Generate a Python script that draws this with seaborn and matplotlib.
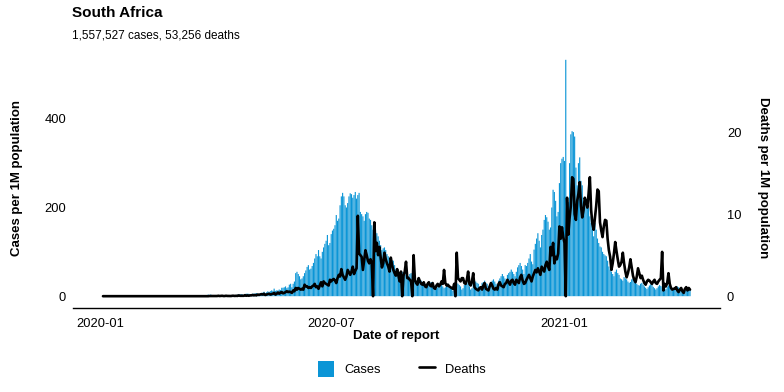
import numpy as np
import pandas as pd
import matplotlib
matplotlib.use("Agg")
import matplotlib.pyplot as plt
import matplotlib.dates as mdates
from matplotlib.patches import Patch
from matplotlib.lines import Line2D
import seaborn as sns

sns.set_style("white")
plt.rcParams['font.family'] = ['Liberation Sans', 'DejaVu Sans']
plt.rcParams['text.color'] = 'black'
plt.rcParams['axes.labelcolor'] = 'black'

# daily values from 2020-01-03, per 1M population
start_date = "2020-01-03"
country = "South Africa"
subtitle = "1,557,527 cases, 53,256 deaths"

cases_per_m = [0] * 62 + [
    # 2020-03-05 .. 03-31
    0.02, 0, 0, 0.02, 0.07, 0.1, 0.05, 0.05, 0.2, 0.15, 0.2, 0.2, 0.4, 0.6,
    0.5, 0.6, 0.9, 0.6, 1.2, 2.2, 2.2, 3.6, 2.6, 3.7, 1.5, 1.2, 1.3,
    # April
    1.0, 1.5, 2.3, 2.1, 1.3, 1.1, 0.9, 1.5, 1.6, 2.0, 1.6, 1.5, 2.0, 1.5,
    2.4, 1.3, 1.8, 3.4, 3.1, 4.2, 4.7, 3.9, 2.8, 2.6, 5.6, 5.6, 5.4, 4.0, 4.7, 5.4,
    # May
    6, 5.7, 7.1, 5.1, 5.7, 6.2, 7.4, 7.9, 10, 6.8, 8.8, 11, 9.2, 11.5,
    13, 12, 17, 12, 13, 13, 15, 14, 19, 19, 20, 22, 18, 20, 26, 28, 20,
    # June
    28, 33, 52, 55, 50, 45, 38, 40, 45, 52, 58, 66, 70, 60,
    62, 68, 75, 85, 95, 90, 104, 90, 85, 100, 110, 118, 125, 138, 115, 120,
    # July
    140, 148, 152, 160, 183, 170, 175, 205, 225, 233, 225, 205, 200, 210,
    225, 232, 230, 222, 228, 235, 220, 228, 233, 190, 185, 180, 170, 185, 190, 188, 175,
    # August
    172, 160, 150, 145, 150, 142, 135, 125, 115, 104, 108, 110, 104, 95,
    90, 85, 78, 81, 80, 70, 60, 55, 50, 45, 52, 55, 52, 50, 48, 52, 45,
    # September
    50, 52, 48, 42, 38, 35, 30, 28, 32, 35, 30, 29, 27, 22,
    25, 29, 30, 32, 28, 20, 18, 17, 20, 25, 30, 28, 22, 18, 20, 25,
    # October
    28, 25, 22, 18, 12, 15, 25, 30, 28, 25, 22, 15, 18, 25,
    30, 32, 28, 22, 15, 18, 28, 35, 33, 30, 28, 20, 22, 30, 32, 35, 30,
    # November
    28, 22, 25, 32, 35, 38, 33, 28, 25, 35, 40, 45, 50, 45,
    40, 35, 48, 52, 55, 60, 55, 50, 45, 55, 65, 70, 75, 68, 60, 50,
    # December
    70, 68, 75, 85, 95, 78, 72, 105, 118, 130, 142, 125, 110, 138,
    150, 172, 183, 178, 168, 150, 155, 200, 240, 235, 215, 180, 190, 255, 300, 310, 314,
    # January 2021
    305, 533, 220, 212, 300, 365, 372, 370, 360, 290, 250, 300, 313, 260,
    250, 210, 200, 205, 210, 200, 180, 165, 150, 135, 165, 150, 130, 120, 112, 110, 100,
    # February
    95, 92, 90, 80, 67, 60, 55, 50, 45, 55, 60, 52, 48, 40,
    38, 35, 43, 40, 38, 33, 30, 32, 38, 40, 35, 30, 28, 25,
    # March
    24, 28, 30, 26, 22, 19, 16, 20, 24, 27, 25, 21, 18, 15,
    18, 22, 25, 23, 20, 17, 14, 16, 21, 24, 22, 19, 16, 14, 17, 20, 22,
    # April 1-10
    20, 17, 14, 12, 11, 14, 18, 19, 17, 15,
]

deaths_per_m = [0] * 62 + [
    # 2020-03-05 .. 03-31
    0, 0, 0, 0, 0, 0, 0, 0, 0, 0, 0, 0, 0, 0,
    0, 0, 0, 0, 0, 0, 0, 0, 0.02, 0.02, 0.02, 0.03, 0.02,
    # April
    0.02, 0.02, 0.05, 0.02, 0.03, 0.05, 0.02, 0.02, 0.05, 0.03, 0.03, 0.02, 0.02, 0.05,
    0.05, 0.03, 0.05, 0.03, 0.1, 0.05, 0.05, 0.05, 0.05, 0.12, 0.05, 0.1, 0.05, 0.1, 0.1, 0.15,
    # May
    0.1, 0.15, 0.1, 0.2, 0.15, 0.2, 0.25, 0.2, 0.3, 0.15, 0.2, 0.25, 0.3, 0.2,
    0.25, 0.3, 0.4, 0.2, 0.3, 0.45, 0.3, 0.45, 0.5, 0.35, 0.4, 0.5, 0.6, 0.5, 0.55, 0.5, 0.4,
    # June
    0.7, 0.6, 1.0, 0.8, 1.0, 0.9, 0.8, 0.9, 0.8, 1.4, 1.2, 1.2, 1.0, 1.1,
    1.0, 1.2, 1.3, 1.5, 1.1, 1.2, 0.9, 1.3, 1.7, 1.2, 1.8, 1.6, 1.5, 1.4, 1.3, 2.0,
    # July
    1.8, 2.0, 2.1, 1.9, 1.6, 2.2, 2.6, 2.4, 3.3, 2.6, 2.3, 2.0, 2.4, 3.2,
    2.9, 2.6, 3.0, 3.6, 2.7, 3.1, 3.4, 9.8, 5.2, 5.0, 4.8, 3.2, 4.4, 5.6, 5.0, 4.3, 4.0,
    # August
    4.5, 4.0, 0.0, 9.0, 5.5, 6.5, 5.0, 6.0, 4.8, 3.5, 4.0, 5.3, 4.5, 4.0,
    3.6, 3.0, 4.7, 3.8, 3.2, 2.8, 2.5, 3.3, 2.5, 1.8, 3.0, 0.0, 2.5, 3.0, 4.2, 2.2, 2.2,
    # September
    2.0, 1.8, 0.0, 5.0, 2.0, 1.6, 1.4, 2.2, 1.8, 1.5, 1.4, 1.7, 1.2, 1.1,
    1.5, 1.7, 1.3, 1.2, 1.6, 1.0, 0.9, 1.3, 1.5, 1.2, 1.4, 1.8, 1.5, 3.2, 1.6, 1.3,
    # October
    1.4, 1.2, 1.1, 1.0, 0.9, 1.5, 0.0, 5.3, 2.2, 2.0, 1.8, 2.2, 2.2, 1.6,
    1.5, 2.0, 3.0, 1.5, 1.3, 1.8, 2.8, 1.1, 0.9, 0.8, 0.7, 1.0, 1.1, 0.8, 1.3, 1.6, 0.9,
    # November
    0.8, 0.7, 1.2, 1.6, 1.3, 0.9, 0.8, 1.0, 0.8, 1.5, 1.7, 1.3, 1.2, 1.1,
    1.5, 1.6, 2.0, 1.7, 1.4, 1.9, 2.0, 1.6, 1.4, 2.0, 1.8, 1.6, 2.3, 2.6, 1.9, 1.5,
    # December
    1.6, 2.0, 2.3, 2.6, 2.2, 1.8, 2.4, 2.8, 3.2, 2.9, 3.4, 3.0, 2.6, 3.6,
    3.3, 3.0, 3.8, 4.2, 3.6, 3.2, 6.0, 5.0, 6.5, 4.0, 4.8, 4.5, 5.2, 8.5, 7.0, 8.4, 7.2,
    # January 2021
    6.5, 0.0, 12.0, 7.5, 9.5, 11.0, 14.5, 14.3, 10.0, 9.3, 11.6, 12.5, 13.9, 11.0,
    9.6, 10.5, 12.0, 11.5, 10.8, 12.5, 14.5, 10.5, 8.8, 8.1, 9.6, 11.0, 13.0, 12.8, 9.0, 8.0, 7.2,
    # February
    8.5, 9.3, 9.2, 7.0, 5.6, 4.8, 3.2, 4.0, 5.2, 6.6, 5.5, 4.5, 3.6, 3.8,
    4.2, 5.3, 4.0, 3.0, 2.3, 2.8, 3.5, 4.5, 3.5, 2.5, 2.0, 1.7, 2.4, 3.4,
    # March
    2.8, 2.2, 2.5, 2.0, 1.6, 1.4, 1.8, 2.0, 1.9, 1.7, 1.5, 1.8, 2.0, 1.6,
    1.5, 1.8, 2.0, 2.2, 5.4, 0.7, 1.5, 1.2, 1.6, 2.8, 1.5, 1.0, 0.8, 0.9, 0.9, 1.1, 0.7,
    # April 1-10
    0.5, 0.8, 1.0, 0.6, 0.4, 0.9, 1.1, 0.7, 1.0, 0.8,
]

tick_dates = ["2020-01-01", "2020-07-01", "2021-01-01"]
left_ticks = [0, 200, 400]
right_ticks = [0, 10, 20]

dates = pd.date_range(start_date, periods=len(cases_per_m), freq="D")
df = pd.DataFrame({"date": mdates.date2num(dates),
                   "cases": cases_per_m,
                   "deaths": deaths_per_m})

bar_color = "#0b95d6"
ratio = 18.5  # cases axis units per deaths axis unit

fig = plt.figure(figsize=(7.84, 3.92), dpi=100)
ax = fig.add_axes([73 / 784, 1 - 308 / 392, 647 / 784, 260 / 392])

sns.barplot(data=df, x="date", y="cases", native_scale=True, width=0.9,
            color=bar_color, saturation=1, linewidth=0, errorbar=None,
            snap=False, ax=ax)

ax2 = ax.twinx()
sns.lineplot(data=df, x="date", y="deaths", color="black", lw=1.9, ax=ax2)

span = df["date"].max() - df["date"].min() + 0.9
ax.set_xlim(df["date"].min() - 0.45 - 0.05 * span, df["date"].max() + 0.45 + 0.05 * span)

m = max(cases_per_m)
ax.set_ylim(-0.05 * m, 1.05 * m)
ax2.set_ylim(-0.05 * m / ratio, 1.05 * m / ratio)

ax.set_xticks(mdates.date2num(pd.to_datetime(tick_dates)))
ax.xaxis.set_major_formatter(mdates.DateFormatter("%Y-%m"))
ax.set_yticks(left_ticks)
ax2.set_yticks(right_ticks)

for a in (ax, ax2):
    for s in ["top", "left", "right"]:
        a.spines[s].set_visible(False)
    a.tick_params(length=0, labelsize=9.3, colors="black")
ax2.spines["bottom"].set_visible(False)
ax.spines["bottom"].set_color("black")
ax.spines["bottom"].set_linewidth(1.0)
ax.tick_params(axis="y", pad=5)
ax.tick_params(axis="x", pad=7)
ax2.tick_params(axis="y", pad=5)

ax.set_xlabel("Date of report", fontsize=9.5, fontweight="bold", labelpad=0)
ax.set_ylabel("Cases per 1M population", fontsize=9.5, fontweight="bold", labelpad=15)
ax2.set_ylabel("Deaths per 1M population", fontsize=9.5, fontweight="bold",
               rotation=270, labelpad=20)

fig.text(72 / 784, 1 - 13 / 392, country, fontsize=11, fontweight="bold", va="center")
fig.text(72 / 784, 1 - 36 / 392, subtitle, fontsize=8.5, va="center")

handles = [Patch(facecolor=bar_color, edgecolor="none"),
           Line2D([0], [0], color="black", lw=1.9)]
fig.legend(handles, ["Cases", "Deaths"], loc="center", ncol=2, frameon=False,
           bbox_to_anchor=(402 / 784, 1 - 369 / 392), fontsize=9.3,
           handlelength=1.2, handleheight=1.6, columnspacing=3.0, handletextpad=0.8)

fig.savefig("out.png", dpi=100)
